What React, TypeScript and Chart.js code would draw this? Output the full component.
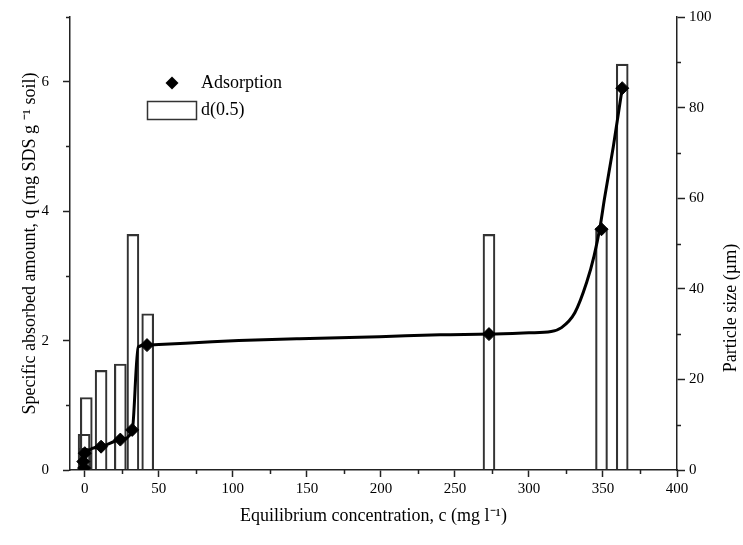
import { useEffect, useRef } from "react";
import { Chart, registerables } from "chart.js";

Chart.register(...registerables);

// ---- data ----
const barX = [-0.5, 0, 1, 11, 24, 32.5, 42.5, 273, 349, 363];
const barY = [7.9, 4.8, 16, 22, 23.4, 52, 34.5, 52, 53.4, 89.6];

const scatterX = [-0.5, -1, 0, 11, 24, 32, 42, 273, 349, 363];
const scatterY = [0.03, 0.13, 0.26, 0.36, 0.47, 0.62, 1.93, 2.1, 3.72, 5.9];

const curveX = [-0.5, 0, 1, 11, 24, 32, 36, 42, 50, 77, 104, 145, 199, 240, 273, 300, 315, 322, 331, 339, 344, 348, 351, 357, 363];
const curveY = [0.03, 0.15, 0.26, 0.36, 0.47, 0.6, 1.9, 1.93, 1.94, 1.97, 2.0, 2.03, 2.06, 2.09, 2.1, 2.12, 2.14, 2.2, 2.43, 2.9, 3.31, 3.75, 4.19, 5.0, 5.9];

const xTicks = [0, 50, 100, 150, 200, 250, 300, 350, 400];
const xMinor = [25, 75, 125, 175, 225, 275, 325, 375];
const yTicks = [0, 2, 4, 6];
const yMinor = [1, 3, 5, 7];
const y2Ticks = [0, 20, 40, 60, 80, 100];
const y2Minor = [10, 30, 50, 70, 90];

const legendLabels = ["Adsorption", "d(0.5)"];
const xTitle = "Equilibrium concentration, c (mg l\u207B\u00B9)";
const yTitle = "Specific absorbed amount, q (mg SDS g \u207B\u00B9 soil)";
const y2Title = "Particle size (\u00B5m)";

const AXIS = "#222";
const FONT = "'Liberation Serif', 'Times New Roman', serif";

const decor = {
  id: "decor",
  afterDraw(chart: any) {
    const ctx = chart.ctx as CanvasRenderingContext2D;
    const area = chart.chartArea;
    const sx = chart.scales.x;
    const sy = chart.scales.y;
    const sy2 = chart.scales.y2;
    ctx.save();
    ctx.strokeStyle = AXIS;
    ctx.lineWidth = 1.5;
    ctx.beginPath();
    for (const v of xMinor) {
      const px = Math.round(sx.getPixelForValue(v)) + 0.5;
      ctx.moveTo(px, area.bottom);
      ctx.lineTo(px, area.bottom + 4);
    }
    for (const v of yMinor) {
      const py = Math.round(sy.getPixelForValue(v)) + 0.5;
      ctx.moveTo(area.left, py);
      ctx.lineTo(area.left - 4, py);
    }
    for (const v of y2Minor) {
      const py = Math.round(sy2.getPixelForValue(v)) + 0.5;
      ctx.moveTo(area.right, py);
      ctx.lineTo(area.right + 4, py);
    }
    ctx.stroke();

    // legend
    ctx.fillStyle = "#000";
    ctx.beginPath();
    const dx = 172, dy = 83, r = 6.5;
    ctx.moveTo(dx - r, dy);
    ctx.lineTo(dx, dy - r);
    ctx.lineTo(dx + r, dy);
    ctx.lineTo(dx, dy + r);
    ctx.closePath();
    ctx.fill();
    ctx.strokeStyle = "#333";
    ctx.lineWidth = 1.5;
    ctx.strokeRect(147.5, 101.5, 49, 18);
    ctx.font = `18px ${FONT}`;
    ctx.textBaseline = "middle";
    ctx.textAlign = "left";
    ctx.fillText(legendLabels[0], 201, dy);
    ctx.fillText(legendLabels[1], 201, 110);

    // right axis title (reads bottom to top)
    ctx.save();
    ctx.translate(731, 308);
    ctx.rotate(-Math.PI / 2);
    ctx.textAlign = "center";
    ctx.fillText(y2Title, 0, 0);
    ctx.restore();

    ctx.restore();
  },
};

export default function App() {
  const ref = useRef<HTMLCanvasElement>(null);
  useEffect(() => {
    const tickFont = { family: FONT, size: 15 };
    const titleFont = { family: FONT, size: 18 };
    const chart = new Chart(ref.current as HTMLCanvasElement, {
      type: "bar",
      data: {
        datasets: [
          {
            type: "scatter",
            label: legendLabels[0],
            data: scatterX.map((x, i) => ({ x, y: scatterY[i] })),
            pointStyle: "rectRot",
            pointRadius: 6.5,
            backgroundColor: "#000",
            borderColor: "#000",
            borderWidth: 1,
            showLine: false,
            yAxisID: "y",
            order: 1,
          } as any,
          {
            type: "line",
            label: "fit",
            data: curveX.map((x, i) => ({ x, y: curveY[i] })),
            borderColor: "#000",
            borderWidth: 3,
            pointRadius: 0,
            cubicInterpolationMode: "monotone",
            fill: false,
            yAxisID: "y",
            order: 2,
          } as any,
          {
            type: "bar",
            label: legendLabels[1],
            data: barX.map((x, i) => ({ x, y: barY[i] })),
            backgroundColor: "rgba(0,0,0,0)",
            borderColor: "#333",
            borderWidth: 1.5,
            barThickness: 12,
            grouped: false,
            yAxisID: "y2",
            order: 3,
          } as any,
        ],
      },
      options: {
        responsive: false,
        animation: false,
        devicePixelRatio: 1,
        layout: { padding: { left: 0, right: 0, top: 17, bottom: 0 } },
        plugins: { legend: { display: false }, tooltip: { enabled: false } },
        scales: {
          x: {
            type: "linear",
            min: -10,
            max: 400,
            offset: false,
            afterBuildTicks: (s: any) => {
              s.ticks = xTicks.map((v) => ({ value: v }));
            },
            afterFit: (s: any) => {
              s.height = 75;
              s.paddingLeft = 0;
              s.paddingRight = 0;
            },
            ticks: { font: tickFont, color: "#000", padding: 3, maxRotation: 0 },
            grid: { offset: false, drawOnChartArea: false, tickLength: 7, tickColor: AXIS, tickWidth: 1.5 },
            border: { color: AXIS, width: 1.5 },
            title: { display: true, text: xTitle, font: titleFont, color: "#000", padding: { top: 0, bottom: 18 } },
          },
          y: {
            type: "linear",
            position: "left",
            min: 0,
            max: 7,
            afterBuildTicks: (s: any) => {
              s.ticks = yTicks.map((v) => ({ value: v }));
            },
            afterFit: (s: any) => {
              s.width = 70;
              s.paddingTop = 0;
              s.paddingBottom = 0;
            },
            ticks: { font: tickFont, color: "#000", padding: 14 },
            grid: { drawOnChartArea: false, tickLength: 7, tickColor: AXIS, tickWidth: 1.5 },
            border: { color: AXIS, width: 1.5 },
            title: { display: true, text: yTitle, font: titleFont, color: "#000", padding: { top: 19, bottom: 0 } },
          },
          y2: {
            type: "linear",
            position: "right",
            min: 0,
            max: 100,
            afterBuildTicks: (s: any) => {
              s.ticks = y2Ticks.map((v) => ({ value: v }));
            },
            afterFit: (s: any) => {
              s.width = 66;
              s.paddingTop = 0;
              s.paddingBottom = 0;
            },
            ticks: { font: tickFont, color: "#000", padding: 4 },
            grid: { drawOnChartArea: false, tickLength: 8, tickColor: AXIS, tickWidth: 1.5 },
            border: { color: AXIS, width: 1.5 },
            title: { display: false },
          },
        },
      } as any,
      plugins: [decor],
    });
    return () => chart.destroy();
  }, []);
  return (
    <div style={{ position: "absolute", left: 0, top: 0, width: 743, height: 545, background: "#fff" }}>
      <canvas ref={ref} width={743} height={545} style={{ display: "block" }} />
    </div>
  );
}
